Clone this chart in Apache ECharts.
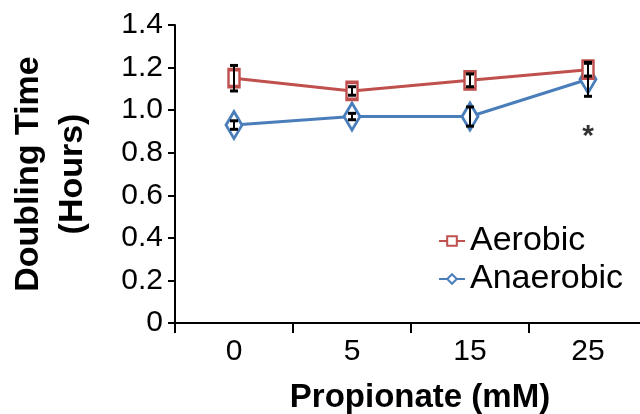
<!DOCTYPE html>
<html>
<head>
<meta charset="utf-8">
<script src="https://cdn.jsdelivr.net/npm/echarts@6/dist/echarts.min.js"></script>
<style>
html,body{margin:0;padding:0;background:#fff;}
#chart{width:640px;height:414px;}
</style>
</head>
<body>
<div id="chart"></div>
<script>
var categories = ['0', '5', '15', '25'];
var aerobic = [1.15, 1.09, 1.14, 1.19];
var aerobicErr = [0.06, 0.02, 0.03, 0.03];
var anaerobic = [0.93, 0.97, 0.97, 1.145];
var anaerobicErr = [0.02, 0.015, 0.045, 0.08];
var asteriskPoint = ['25', 0.9];
var yTicks = { min: 0, max: 1.4, interval: 0.2 };

var FONT = '"Liberation Sans", Arial, sans-serif';
var RED = '#c0504d';
var BLUE = '#4a7ebb';

function errData(vals, errs) {
  return vals.map(function (v, i) { return [i, v - errs[i], v + errs[i]]; });
}
function renderErr(params, api) {
  var x = api.value(0);
  var lo = api.coord([x, api.value(1)]);
  var hi = api.coord([x, api.value(2)]);
  var cw = 4;
  var style = { stroke: '#000', lineWidth: 2 };
  var capStyle = { stroke: '#000', lineWidth: 3 };
  return {
    type: 'group',
    children: [
      { type: 'line', shape: { x1: lo[0], y1: lo[1], x2: hi[0], y2: hi[1] }, style: style },
      { type: 'line', shape: { x1: hi[0] - cw, y1: hi[1], x2: hi[0] + cw, y2: hi[1] }, style: capStyle },
      { type: 'line', shape: { x1: lo[0] - cw, y1: lo[1], x2: lo[0] + cw, y2: lo[1] }, style: capStyle }
    ]
  };
}

var chart = echarts.init(document.getElementById('chart'), null, { renderer: 'canvas' });
chart.setOption({
  animation: false,
  backgroundColor: '#fff',
  grid: { left: 175, top: 25, width: 472, height: 298, outerBoundsMode: 'none', containLabel: false },
  legend: {
    data: ['Aerobic', 'Anaerobic'],
    orient: 'vertical',
    left: 438,
    top: 224,
    padding: 0,
    itemWidth: 26,
    itemHeight: 12,
    itemGap: 4,
    textStyle: { fontFamily: FONT, fontSize: 34, color: '#000', lineHeight: 34 }
  },
  xAxis: {
    type: 'category',
    data: categories,
    boundaryGap: true,
    name: 'Propionate (mM)',
    nameLocation: 'middle',
    nameGap: 58,
    nameTextStyle: { fontFamily: FONT, fontSize: 33, fontWeight: 'bold', color: '#000', padding: [0, 0, 0, 18] },
    axisLine: { lineStyle: { color: '#000', width: 2 } },
    axisTick: { show: true, length: 10, alignWithLabel: false, lineStyle: { color: '#000', width: 2 } },
    axisLabel: { fontFamily: FONT, fontSize: 30, color: '#000', margin: 14 },
    splitLine: { show: false }
  },
  yAxis: {
    type: 'value',
    min: yTicks.min,
    max: yTicks.max,
    interval: yTicks.interval,
    name: 'Doubling Time\n(Hours)',
    nameLocation: 'middle',
    nameRotate: 90,
    nameGap: 80,
    nameTextStyle: { fontFamily: FONT, fontSize: 34, fontWeight: 'bold', color: '#000', lineHeight: 44 },
    axisLine: { show: true, lineStyle: { color: '#000', width: 2 } },
    axisTick: { show: true, length: 7, lineStyle: { color: '#000', width: 2 } },
    axisLabel: {
      fontFamily: FONT, fontSize: 30, color: '#000', margin: 12,
      formatter: function (v) { return v === 0 ? '0' : v.toFixed(1); }
    },
    splitLine: { show: false }
  },
  series: [
    {
      name: 'Aerobic', type: 'line', data: aerobic,
      symbol: 'rect', symbolSize: [11, 17],
      lineStyle: { color: RED, width: 3 },
      itemStyle: { color: '#fff', borderColor: RED, borderWidth: 3 },
      z: 3
    },
    {
      name: 'Anaerobic', type: 'line', data: anaerobic,
      symbol: 'diamond', symbolSize: [16, 27],
      lineStyle: { color: BLUE, width: 3 },
      itemStyle: { color: '#fff', borderColor: BLUE, borderWidth: 3 },
      z: 2
    },
    {
      type: 'custom', renderItem: renderErr, data: errData(aerobic, aerobicErr), z: 10, silent: true
    },
    {
      type: 'custom', renderItem: renderErr, data: errData(anaerobic, anaerobicErr), z: 10, silent: true
    },
    {
      type: 'scatter', data: [asteriskPoint], symbolSize: 0, silent: true,
      label: { show: true, position: 'inside', formatter: '*', fontFamily: FONT, fontSize: 30, fontWeight: 'bold', color: '#000', offset: [0, 5] }
    }
  ]
});
</script>
</body>
</html>
